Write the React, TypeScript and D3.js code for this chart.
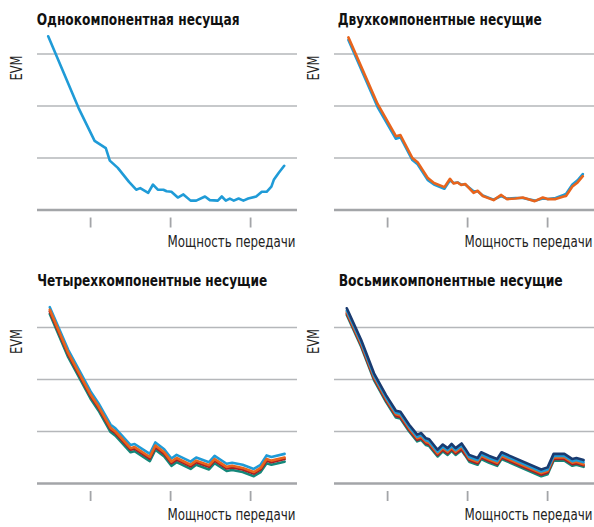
import React from 'react';
import * as d3 from 'd3';

// Заголовки и подписи
const titles = [
  'Однокомпонентная несущая',
  'Двухкомпонентные несущие',
  'Четырехкомпонентные несущие',
  'Восьмикомпонентные несущие',
];
const yLabel = 'EVM';
const xLabel = 'Мощность передачи';
const gridValues = [1, 2, 3];
const tickValues = [-20, -10, 0];

// Панель 1: одна несущая
const p1X = [-25.3, -21.5, -19.5, -18.1, -17.6, -16.6, -15.2, -14.3, -13.8, -12.8, -12.2, -11.6, -10.9, -10.5, -9.9, -9.1, -8.4, -7.5, -6.8, -5.7, -5.1, -4.1, -3.6, -3.1, -2.6, -2.1, -1.5, -0.9, -0.3, 0.7, 1.4, 2.0, 2.6, 2.9, 3.5, 4.2];
const p1Blue = [3.34, 1.96, 1.33, 1.19, 0.95, 0.81, 0.54, 0.39, 0.42, 0.33, 0.49, 0.39, 0.39, 0.36, 0.35, 0.24, 0.30, 0.18, 0.18, 0.26, 0.19, 0.18, 0.26, 0.18, 0.22, 0.18, 0.22, 0.18, 0.22, 0.26, 0.35, 0.35, 0.45, 0.58, 0.71, 0.85];

// Панель 2: две несущие
const p2X = [-24.9, -21.25, -18.96, -18.4, -16.9, -16.25, -15.0, -14.2, -12.9, -12.2, -11.75, -11.25, -10.8, -10.3, -9.25, -8.75, -8.1, -6.75, -5.8, -5.1, -4.0, -3.1, -1.6, -0.6, 0.0, 1.0, 2.0, 2.3, 3.1, 3.75, 4.4];
const p2Blue = [3.27, 1.98, 1.37, 1.40, 0.96, 0.88, 0.58, 0.49, 0.41, 0.57, 0.52, 0.53, 0.49, 0.49, 0.36, 0.36, 0.28, 0.20, 0.27, 0.22, 0.23, 0.23, 0.18, 0.22, 0.21, 0.23, 0.29, 0.31, 0.49, 0.57, 0.69];
const p2Orange = [3.32, 2.04, 1.42, 1.44, 1.00, 0.92, 0.62, 0.52, 0.44, 0.60, 0.51, 0.53, 0.48, 0.50, 0.33, 0.37, 0.27, 0.19, 0.29, 0.21, 0.22, 0.24, 0.17, 0.24, 0.21, 0.21, 0.26, 0.27, 0.45, 0.53, 0.65];

// Панель 3: четыре несущие
const p3X = [-25.1, -22.8, -20.0, -19.0, -17.5, -16.9, -15.0, -14.5, -12.6, -11.9, -10.8, -9.9, -9.25, -7.5, -6.8, -5.2, -4.5, -3.0, -2.3, -1.0, 0.4, 1.25, 2.0, 2.6, 4.25];
const p3Teal = [3.26, 2.43, 1.63, 1.40, 0.99, 0.92, 0.60, 0.62, 0.43, 0.65, 0.52, 0.34, 0.41, 0.28, 0.36, 0.27, 0.39, 0.24, 0.26, 0.22, 0.14, 0.22, 0.39, 0.36, 0.42];
const p3Red = [3.31, 2.48, 1.68, 1.45, 1.04, 0.97, 0.65, 0.67, 0.48, 0.70, 0.57, 0.39, 0.46, 0.33, 0.41, 0.32, 0.44, 0.29, 0.31, 0.27, 0.19, 0.27, 0.44, 0.41, 0.47];
const p3Orange = [3.34, 2.51, 1.71, 1.48, 1.07, 1.00, 0.68, 0.70, 0.51, 0.73, 0.60, 0.42, 0.49, 0.36, 0.44, 0.35, 0.47, 0.32, 0.34, 0.30, 0.22, 0.30, 0.47, 0.44, 0.50];
const p3Blue = [3.39, 2.57, 1.77, 1.54, 1.13, 1.06, 0.74, 0.76, 0.57, 0.79, 0.66, 0.48, 0.55, 0.42, 0.50, 0.41, 0.53, 0.38, 0.40, 0.36, 0.28, 0.36, 0.54, 0.51, 0.57];

// Панель 4: восемь несущих
const p4X = [-25.1, -23.3, -21.7, -20.2, -18.96, -18.4, -17.3, -16.3, -15.8, -15.2, -14.8, -13.75, -13.1, -12.5, -12.0, -11.5, -10.75, -10.3, -9.8, -8.75, -8.3, -7.3, -6.3, -5.75, -0.8, 0.0, 0.75, 2.1, 3.1, 3.6, 4.5];
const p4Teal = [3.24, 2.63, 1.99, 1.57, 1.27, 1.25, 1.00, 0.81, 0.84, 0.74, 0.72, 0.52, 0.62, 0.55, 0.63, 0.55, 0.64, 0.54, 0.42, 0.36, 0.47, 0.40, 0.34, 0.47, 0.14, 0.18, 0.44, 0.44, 0.34, 0.36, 0.32];
const p4Red = [3.27, 2.66, 2.02, 1.60, 1.30, 1.28, 1.03, 0.84, 0.87, 0.77, 0.75, 0.55, 0.65, 0.58, 0.66, 0.58, 0.66, 0.56, 0.45, 0.39, 0.50, 0.43, 0.37, 0.50, 0.17, 0.21, 0.47, 0.47, 0.37, 0.39, 0.35];
const p4Orange = [3.30, 2.69, 2.05, 1.63, 1.33, 1.31, 1.06, 0.87, 0.90, 0.80, 0.78, 0.58, 0.68, 0.61, 0.69, 0.61, 0.70, 0.60, 0.48, 0.42, 0.53, 0.46, 0.40, 0.53, 0.20, 0.24, 0.50, 0.50, 0.40, 0.42, 0.37];
const p4Blue = [3.33, 2.72, 2.08, 1.66, 1.36, 1.34, 1.09, 0.90, 0.93, 0.83, 0.81, 0.61, 0.71, 0.64, 0.72, 0.64, 0.73, 0.63, 0.51, 0.45, 0.56, 0.49, 0.43, 0.56, 0.23, 0.27, 0.53, 0.53, 0.43, 0.45, 0.41];
const p4Navy = [3.37, 2.76, 2.12, 1.70, 1.40, 1.38, 1.13, 0.94, 0.97, 0.87, 0.85, 0.65, 0.75, 0.68, 0.76, 0.68, 0.77, 0.67, 0.55, 0.49, 0.60, 0.53, 0.47, 0.60, 0.27, 0.31, 0.57, 0.57, 0.47, 0.49, 0.45];

const BLUE = '#1f9bd7';
const ORANGE = '#e8641c';
const RED = '#a81c22';
const TEAL = '#14877a';
const NAVY = '#1a3b70';

const panels = [
  { xs: p1X, series: [{ color: BLUE, values: p1Blue }] },
  { xs: p2X, series: [{ color: BLUE, values: p2Blue }, { color: ORANGE, values: p2Orange }] },
  {
    xs: p3X,
    series: [
      { color: TEAL, values: p3Teal },
      { color: BLUE, values: p3Blue },
      { color: RED, values: p3Red },
      { color: ORANGE, values: p3Orange },
    ],
  },
  {
    xs: p4X,
    series: [
      { color: TEAL, values: p4Teal },
      { color: RED, values: p4Red },
      { color: ORANGE, values: p4Orange },
      { color: BLUE, values: p4Blue },
      { color: NAVY, values: p4Navy },
    ],
  },
];

// раскладка заголовков (x, ширина)
const titleLayout = [
  { x: 36.7, w: 203 },
  { x: 40.7, w: 204 },
  { x: 37.3, w: 230 },
  { x: 41.7, w: 224 },
];

const FONT = "'Liberation Sans Narrow', 'Arial Narrow', 'DejaVu Sans Condensed', sans-serif";

function Panel({ index }: { index: number }) {
  const p = panels[index];
  const col = index % 2;
  const row = Math.floor(index / 2);
  const x = d3.scaleLinear().domain([-26.7, 5.8]).range([37, 297]);
  const y = d3.scaleLinear().domain([0, 3]).range([210, 54]);
  const line = d3
    .line<number>()
    .x((_, i) => x(p.xs[i]))
    .y((d) => y(d));
  const tl = titleLayout[index];
  const titleY = row === 0 ? 25 : 12;

  return (
    <g transform={`translate(${col * 297},${row * 273.5})`}>
      <text
        x={tl.x}
        y={titleY}
        fontFamily={FONT}
        fontWeight="bold"
        fontSize={16}
        fill="#111"
        textLength={tl.w}
        lengthAdjust="spacingAndGlyphs"
      >
        {titles[index]}
      </text>
      {gridValues.map((v) => (
        <line key={v} x1={x.range()[0]} x2={x.range()[1]} y1={y(v)} y2={y(v)} stroke="#b5b7ba" strokeWidth={1.5} />
      ))}
      <line x1={x.range()[0]} x2={x.range()[1]} y1={y(0)} y2={y(0)} stroke="#a3a5a8" strokeWidth={2.7} />
      {tickValues.map((t) => (
        <line key={t} x1={x(t)} x2={x(t)} y1={y(0) + 7.5} y2={y(0) + 17.5} stroke="#a3a5a8" strokeWidth={1.8} />
      ))}
      <text
        transform={`translate(21.5,68) rotate(-90)`}
        textAnchor="middle"
        fontFamily={FONT}
        fontSize={16}
        fill="#222"
        textLength={25}
        lengthAdjust="spacingAndGlyphs"
      >
        {yLabel}
      </text>
      <text
        x={295.5}
        y={246.5}
        textAnchor="end"
        fontFamily={FONT}
        fontSize={16}
        fill="#222"
        textLength={128}
        lengthAdjust="spacingAndGlyphs"
      >
        {xLabel}
      </text>
      {p.series.map((s, i) => (
        <path
          key={i}
          d={line(s.values) || ''}
          fill="none"
          stroke={s.color}
          strokeWidth={2.6}
          strokeLinejoin="round"
          strokeLinecap="round"
        />
      ))}
    </g>
  );
}

export default function App() {
  return (
    <div style={{ position: 'absolute', left: 0, top: 0 }}>
      <svg width={594} height={527} viewBox="0 0 594 527" style={{ display: 'block', background: '#fff' }}>
        {panels.map((_, i) => (
          <Panel key={i} index={i} />
        ))}
      </svg>
    </div>
  );
}
